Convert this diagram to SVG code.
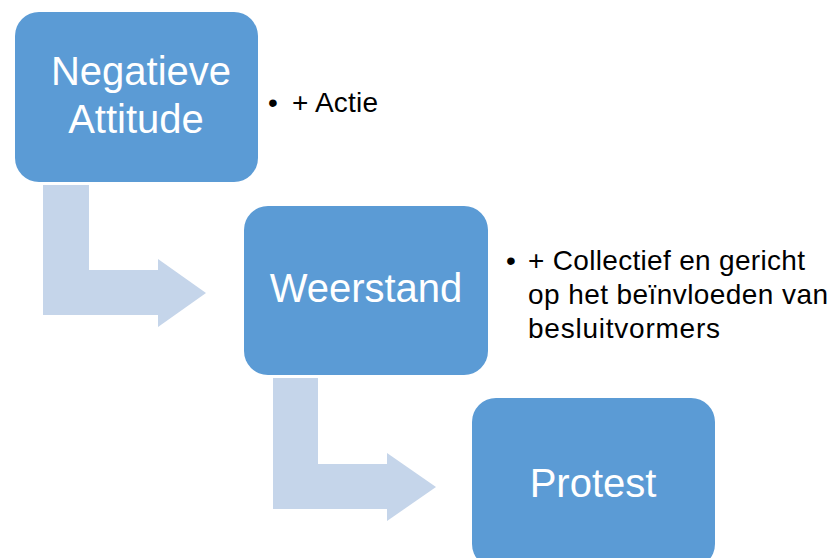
<svg xmlns="http://www.w3.org/2000/svg" width="835" height="558" viewBox="0 0 835 558">
<style>
.box{fill:#5B9BD5}
.arrow{fill:#C5D5EA}
.lbl{font-family:"Liberation Sans",Arial,sans-serif;font-size:40px;fill:#FFFFFF;text-anchor:middle}
.bul{font-family:"Liberation Sans",Arial,sans-serif;font-size:28px;fill:#000000}
</style>
<rect width="835" height="558" fill="#FFFFFF"/>
<g id="connectors">
<polygon class="arrow" points="43,185 89,185 89,270 158,270 158,259 206,293 158,327 158,315 43,315"/>
<polygon class="arrow" points="273,378 318,378 318,464 387,464 387,453 436,487 387,521 387,509 273,509"/>
</g>
<g id="node-negatieve-attitude">
<rect class="box" x="15" y="12" width="243" height="170" rx="24" ry="24"/>
<text class="lbl" x="141" y="85">Negatieve</text>
<text class="lbl" x="136" y="133">Attitude</text>
</g>
<g id="node-weerstand">
<rect class="box" x="244" y="206" width="244" height="169" rx="24" ry="24"/>
<text class="lbl" x="366" y="302">Weerstand</text>
</g>
<g id="node-protest">
<rect class="box" x="472" y="398" width="243" height="170" rx="24" ry="24"/>
<text class="lbl" x="593" y="497">Protest</text>
</g>
<g id="note-actie">
<text class="bul" x="268" y="112">•</text>
<text class="bul" x="292" y="112" textLength="86">+ Actie</text>
</g>
<g id="note-collectief">
<text class="bul" x="506" y="270">•</text>
<text class="bul" x="528" y="270" textLength="277">+ Collectief en gericht</text>
<text class="bul" x="528" y="304" textLength="300">op het beïnvloeden van</text>
<text class="bul" x="528" y="338" textLength="192">besluitvormers</text>
</g>
</svg>
